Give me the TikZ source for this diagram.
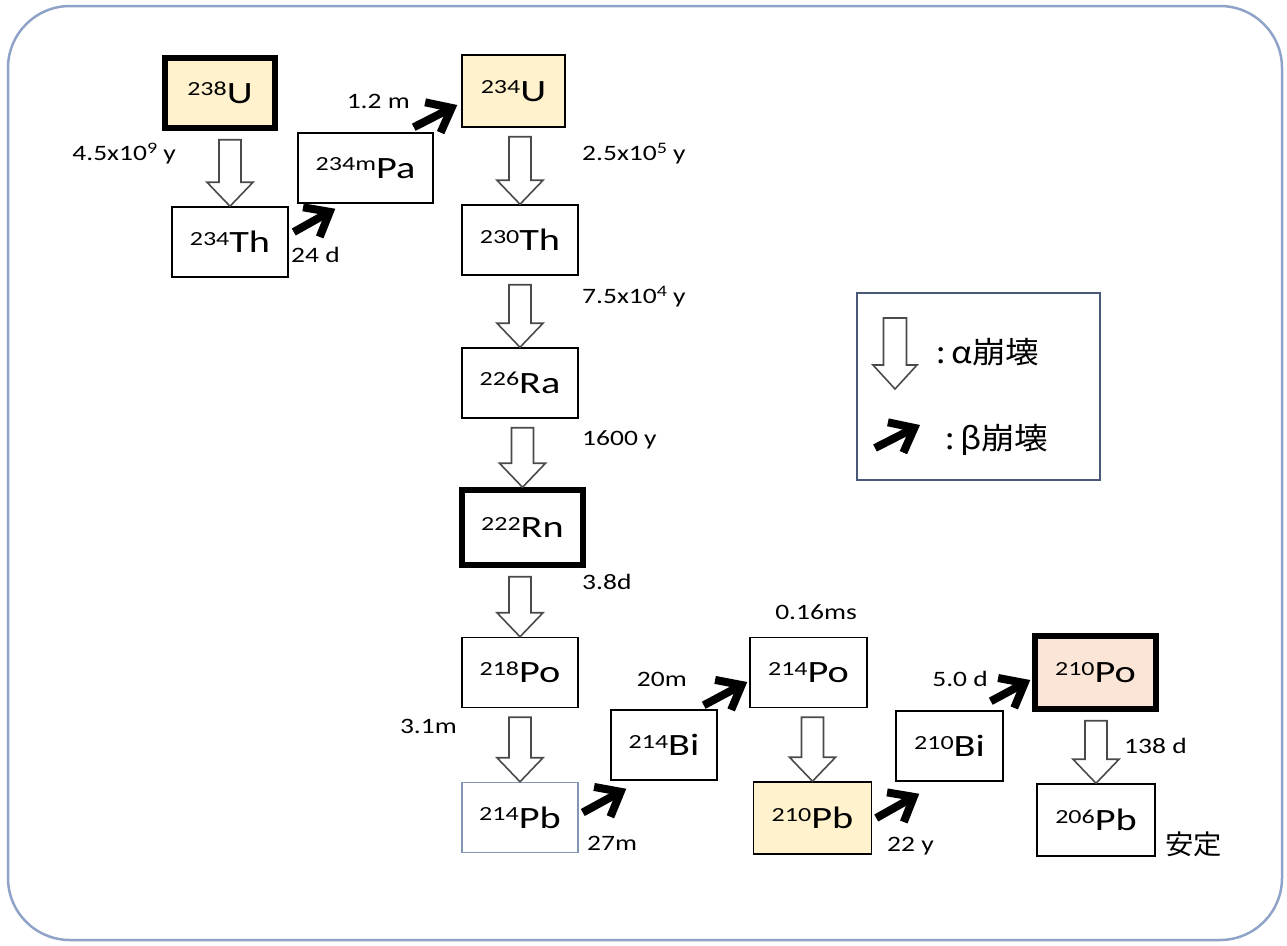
\documentclass[tikz,border=0pt]{standalone}
\usepackage{fontspec}
\setmainfont{Carlito}
\newfontfamily\cjk{Noto Sans CJK JP}
\usetikzlibrary{arrows.meta,calc}
\definecolor{uy}{HTML}{FFF2CC}
\definecolor{pofill}{HTML}{FBE5D6}
\definecolor{framec}{HTML}{8FA3C9}
\definecolor{legendc}{HTML}{4A5878}
\definecolor{pbb}{HTML}{8096B4}
\definecolor{agray}{HTML}{4A4A4A}
\newcommand\hs[2][1.3]{\scalebox{#1}[1]{#2}}
\newcommand\iso[2]{\hs{\raisebox{7.5pt}{\fontsize{20}{20}\selectfont #1}#2}}
\newcommand\expo[1]{\raisebox{6.5pt}{\fontsize{16}{16}\selectfont #1}}
\newcommand\alphaarr[3][9]{%
  \path[alphaar] let \p1=(#2.south), \p2=(#3.north) in
  (\x2-11pt,\y1-#1pt) -- (\x2+11pt,\y1-#1pt) -- (\x2+11pt,\y2+24pt) -- (\x2+23pt,\y2+24pt)
  -- (\x2,\y2) -- (\x2-23pt,\y2+24pt) -- (\x2-11pt,\y2+24pt) -- cycle;}
\begin{document}
\begin{tikzpicture}[x=1pt,y=-1pt,
  nuc/.style={draw=black,line width=1.5pt,minimum width=116pt,minimum height=70pt,inner sep=0pt,
    font=\fontsize{31}{31}\selectfont},
  thickbox/.style={line width=5.5pt},
  lbl/.style={font=\fontsize{22}{22}\selectfont,inner sep=0pt,text height=15pt,text depth=5pt},
  alphaar/.style={draw=agray,line width=1.6pt,fill=white,line join=miter},
  betaar/.style={line width=8pt,-{Straight Barb[length=21pt,width=34pt]}},
]
\useasboundingbox (0,0) rectangle (1287,945);
\draw[framec,line width=2.5pt,rounded corners=62pt] (8,6) rectangle (1282,940);

% nuclide boxes
\node[nuc,thickbox,fill=uy,minimum width=110pt] (U238) at (220,93) {\iso{238}{U}};
\node[nuc] (Th234) at (230,242) {\iso{234}{Th}};
\node[nuc,minimum width=135pt] (Pa234) at (365.5,168) {\iso{234m}{Pa}};
\node[nuc,fill=uy,minimum width=103pt,minimum height=72pt] (U234) at (513.5,91) {\iso{234}{U}};
\node[nuc] (Th230) at (520,240) {\iso{230}{Th}};
\node[nuc] (Ra226) at (520,383) {\iso{226}{Ra}};
\node[nuc,thickbox,minimum width=121pt,minimum height=75pt] (Rn222) at (522.5,527.5) {\iso{222}{Rn}};
\node[nuc] (Po218) at (520,672.5) {\iso{218}{Po}};
\node[nuc,draw=pbb] (Pb214) at (520,817.5) {\iso{214}{Pb}};
\node[nuc,minimum width=106pt] (Bi214) at (664,745) {\iso{214}{Bi}};
\node[nuc,minimum width=117pt] (Po214) at (808.5,672.5) {\iso{214}{Po}};
\node[nuc,fill=uy,minimum width=118pt,minimum height=72pt] (Pb210) at (812.5,818) {\iso{210}{Pb}};
\node[nuc,minimum width=107pt] (Bi210) at (949.5,746) {\iso{210}{Bi}};
\node[nuc,thickbox,fill=pofill,minimum width=121pt,minimum height=73pt] (Po210) at (1095.5,672.5) {\iso{210}{Po}};
\node[nuc,minimum width=118pt,minimum height=72pt] (Pb206) at (1096,820) {\iso{206}{Pb}};

% alpha decays
\alphaarr{U238}{Th234}
\alphaarr{U234}{Th230}
\alphaarr{Th230}{Ra226}
\alphaarr{Ra226}{Rn222}
\alphaarr{Rn222}{Po218}
\alphaarr{Po218}{Pb214}
\alphaarr{Po214}{Pb210}
\alphaarr{Po210}{Pb206}

% beta decays
\draw[betaar] ([shift={(5,-10)}]Th234.east) -- ([shift={(38,5)}]Pa234.south west);
\draw[betaar] ([shift={(-20,-5)}]Pa234.north east) -- ([shift={(-4,14)}]U234.west);
\draw[betaar] ([shift={(4,-5)}]Pb214.east) -- ([shift={(16,8)}]Bi214.south west);
\draw[betaar] ([shift={(-14,-4)}]Bi214.north east) -- ([shift={(-2,9.5)}]Po214.west);
\draw[betaar] ([shift={(4,0)}]Pb210.east) -- ([shift={(24,12)}]Bi210.south west);
\draw[betaar] ([shift={(-13,-9)}]Bi210.north east) -- ([shift={(-2,7.5)}]Po210.west);

% half-lives
\node[lbl,anchor=east] (t1) at (176,155) {\hs[1.25]{4.5x10\expo{9} y}};
\node[lbl,anchor=west] (t2) at (291,257) {\hs[1.25]{24 d}};
\node[lbl,anchor=east] (t3) at (410,103) {\hs[1.25]{1.2 m}};
\node[lbl,anchor=west] (t4) at (582,155) {\hs[1.25]{2.5x10\expo{5} y}};
\node[lbl,anchor=west] (t5) at (582,298) {\hs[1.25]{7.5x10\expo{4} y}};
\node[lbl,anchor=west] (t6) at (582,440) {\hs[1.25]{1600 y}};
\node[lbl,anchor=west] (t7) at (582,584) {\hs[1.25]{3.8d}};
\node[lbl,anchor=east] (t8) at (457,728) {\hs[1.25]{3.1m}};
\node[lbl,anchor=west] (t9) at (587,845) {\hs[1.25]{27m}};
\node[lbl,anchor=east] (t10) at (687,681) {\hs[1.25]{20m}};
\node[lbl] (t11) at (816,614) {\hs[1.25]{0.16ms}};
\node[lbl,anchor=west] (t12) at (887,846) {\hs[1.25]{22 y}};
\node[lbl,anchor=east] (t13) at (988,681) {\hs[1.25]{5.0 d}};
\node[lbl,anchor=west] (t14) at (1124,748) {\hs[1.25]{138 d}};
\node[anchor=west,inner sep=0pt,font=\cjk\fontsize{27}{27}\selectfont] (stable) at (1165,844) {\hs[1.05]{安定}};

% legend
\node[draw=legendc,line width=2.5pt,minimum width=243pt,minimum height=187pt] (legend) at (978.5,386.5) {};
\path[alphaar] (883.5,318) -- (906.5,318) -- (906.5,365) -- (917,365) -- (895,389) -- (873,365) -- (883.5,365) -- cycle;
\coordinate (lb1) at (875,448);
\coordinate (lb2) at (920,425);
\draw[betaar] (lb1) -- (lb2);
\node[anchor=west,inner sep=0pt,font=\cjk\fontsize{30}{30}\selectfont] (la) at (936,352) {\hs[1.12]{:\,α崩壊}};
\node[anchor=west,inner sep=0pt,font=\cjk\fontsize{30}{30}\selectfont] (lbt) at (945,440) {\hs[1.12]{:\,β崩壊}};
\end{tikzpicture}
\end{document}
